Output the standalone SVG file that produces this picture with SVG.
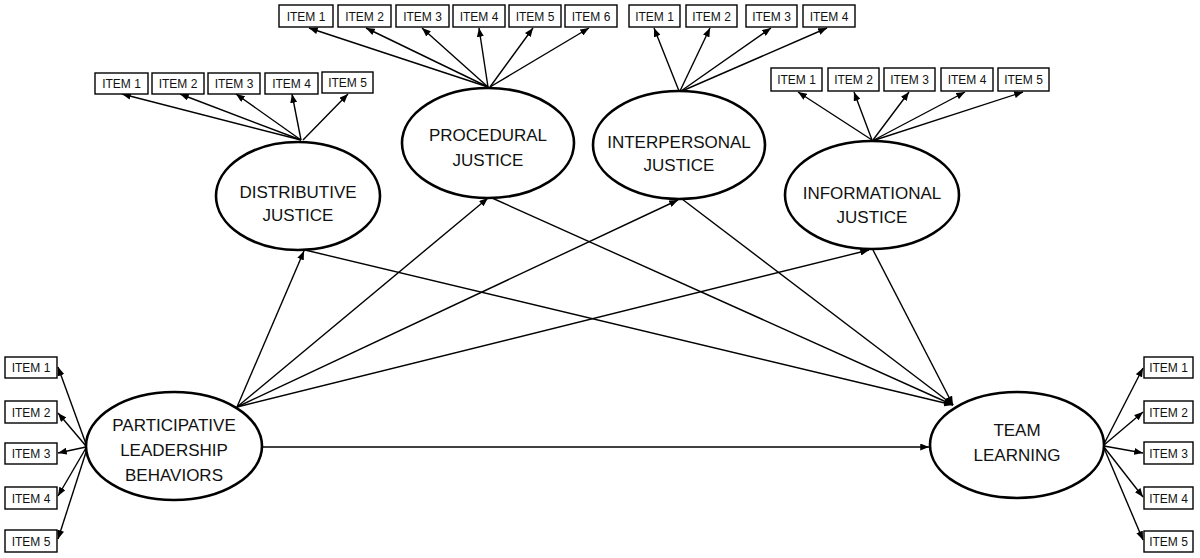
<svg xmlns="http://www.w3.org/2000/svg" width="1200" height="558" viewBox="0 0 1200 558">
<defs>
<marker id="ah" viewBox="0 0 10 8" refX="10" refY="4" markerWidth="9" markerHeight="7" orient="auto" markerUnits="userSpaceOnUse">
<path d="M0,0 L10,4 L0,8 z" fill="#000"/>
</marker>
<style>
.item rect{fill:#fff;stroke:#000;stroke-width:1.4}
.item text{font-family:"Liberation Sans",Arial,sans-serif;font-size:12px;text-anchor:middle;fill:#111}
.lat ellipse{fill:#fff;stroke:#000;stroke-width:2.6}
.lat text{font-family:"Liberation Sans",Arial,sans-serif;font-size:17px;text-anchor:middle;fill:#111}
.c line{stroke:#000;stroke-width:1.4;marker-end:url(#ah)}
</style>
</defs>
<rect width="1200" height="558" fill="#fff"/>

<g id="connectors" class="c">
<!-- structural paths -->
<line x1="237" y1="407" x2="304" y2="251"/>
<line x1="237" y1="407" x2="488" y2="198"/>
<line x1="237" y1="407" x2="678" y2="200"/>
<line x1="237" y1="407" x2="869" y2="250"/>
<line x1="262" y1="447" x2="929" y2="447"/>
<line x1="305" y1="250" x2="953" y2="405"/>
<line x1="492" y1="198" x2="953" y2="405"/>
<line x1="682" y1="199" x2="953" y2="405"/>
<line x1="873" y1="250" x2="953" y2="405"/>
<!-- distributive items -->
<line x1="301" y1="140" x2="122" y2="94"/>
<line x1="301" y1="140" x2="180" y2="94"/>
<line x1="301" y1="140" x2="236" y2="94"/>
<line x1="301" y1="140" x2="292" y2="94"/>
<line x1="303" y1="140" x2="348" y2="94"/>
<!-- procedural items -->
<line x1="488" y1="87" x2="309" y2="28"/>
<line x1="488" y1="87" x2="366" y2="28"/>
<line x1="488" y1="87" x2="422" y2="28"/>
<line x1="488" y1="87" x2="479" y2="28"/>
<line x1="490" y1="87" x2="533" y2="28"/>
<line x1="490" y1="87" x2="589" y2="28"/>
<!-- interpersonal items -->
<line x1="679" y1="91" x2="654" y2="28"/>
<line x1="680" y1="91" x2="710" y2="28"/>
<line x1="681" y1="91" x2="771" y2="28"/>
<line x1="682" y1="91" x2="827" y2="28"/>
<!-- informational items -->
<line x1="872" y1="140" x2="798" y2="92"/>
<line x1="872" y1="140" x2="854" y2="92"/>
<line x1="873" y1="140" x2="909" y2="92"/>
<line x1="874" y1="140" x2="965" y2="92"/>
<line x1="875" y1="140" x2="1023" y2="92"/>
<!-- participative items -->
<line x1="86" y1="444" x2="58" y2="367"/>
<line x1="86" y1="446" x2="58" y2="413"/>
<line x1="86" y1="447" x2="58" y2="453"/>
<line x1="86" y1="448" x2="58" y2="496"/>
<line x1="87" y1="449" x2="58" y2="539"/>
<!-- team learning items -->
<line x1="1104" y1="444" x2="1143" y2="368"/>
<line x1="1104" y1="445" x2="1143" y2="412"/>
<line x1="1104" y1="446" x2="1143" y2="453"/>
<line x1="1104" y1="447" x2="1143" y2="497"/>
<line x1="1104" y1="448" x2="1143" y2="540"/>
</g>

<g id="distributive" class="lat">
<ellipse cx="298" cy="196" rx="82" ry="54"/>
<text x="298" y="198">DISTRIBUTIVE</text>
<text x="298" y="221">JUSTICE</text>
</g>
<g id="procedural" class="lat">
<ellipse cx="488" cy="143" rx="86" ry="55"/>
<text x="488" y="141">PROCEDURAL</text>
<text x="488" y="166">JUSTICE</text>
</g>
<g id="interpersonal" class="lat">
<ellipse cx="679" cy="145" rx="86" ry="54"/>
<text x="679" y="148">INTERPERSONAL</text>
<text x="679" y="171">JUSTICE</text>
</g>
<g id="informational" class="lat">
<ellipse cx="872" cy="195" rx="87" ry="54"/>
<text x="872" y="199">INFORMATIONAL</text>
<text x="872" y="223">JUSTICE</text>
</g>
<g id="participative" class="lat">
<ellipse cx="174" cy="446" rx="88" ry="54"/>
<text x="174" y="431">PARTICIPATIVE</text>
<text x="174" y="456">LEADERSHIP</text>
<text x="174" y="481">BEHAVIORS</text>
</g>
<g id="team-learning" class="lat">
<ellipse cx="1017" cy="445" rx="87" ry="53"/>
<text x="1017" y="436">TEAM</text>
<text x="1017" y="461">LEARNING</text>
</g>

<g id="distributive-items" class="item">
<g id="dj-item1"><rect x="95" y="73" width="53" height="21"/><text x="121.5" y="88">ITEM 1</text></g>
<g id="dj-item2"><rect x="152" y="73" width="52" height="21"/><text x="178" y="88">ITEM 2</text></g>
<g id="dj-item3"><rect x="208" y="73" width="52" height="21"/><text x="234" y="88">ITEM 3</text></g>
<g id="dj-item4"><rect x="265" y="73" width="53" height="21"/><text x="291.5" y="88">ITEM 4</text></g>
<g id="dj-item5"><rect x="322" y="72" width="51" height="21"/><text x="347.5" y="87">ITEM 5</text></g>
</g>
<g id="procedural-items" class="item">
<g id="pj-item1"><rect x="279" y="5" width="54" height="22"/><text x="306" y="20.5">ITEM 1</text></g>
<g id="pj-item2"><rect x="338" y="5" width="53" height="22"/><text x="364.5" y="20.5">ITEM 2</text></g>
<g id="pj-item3"><rect x="396" y="5" width="53" height="22"/><text x="422.5" y="20.5">ITEM 3</text></g>
<g id="pj-item4"><rect x="453" y="5" width="52" height="22"/><text x="479" y="20.5">ITEM 4</text></g>
<g id="pj-item5"><rect x="509" y="5" width="52" height="22"/><text x="535" y="20.5">ITEM 5</text></g>
<g id="pj-item6"><rect x="565" y="5" width="52" height="22"/><text x="591" y="20.5">ITEM 6</text></g>
</g>
<g id="interpersonal-items" class="item">
<g id="ij-item1"><rect x="629" y="5" width="51" height="22"/><text x="654.5" y="20.5">ITEM 1</text></g>
<g id="ij-item2"><rect x="686" y="5" width="51" height="22"/><text x="711.5" y="20.5">ITEM 2</text></g>
<g id="ij-item3"><rect x="746" y="5" width="51" height="22"/><text x="771.5" y="20.5">ITEM 3</text></g>
<g id="ij-item4"><rect x="803" y="5" width="52" height="22"/><text x="829" y="20.5">ITEM 4</text></g>
</g>
<g id="informational-items" class="item">
<g id="inf-item1"><rect x="771" y="68" width="51" height="23"/><text x="796.5" y="84">ITEM 1</text></g>
<g id="inf-item2"><rect x="828" y="68" width="51" height="23"/><text x="853.5" y="84">ITEM 2</text></g>
<g id="inf-item3"><rect x="884" y="68" width="51" height="23"/><text x="909.5" y="84">ITEM 3</text></g>
<g id="inf-item4"><rect x="941" y="68" width="52" height="23"/><text x="967" y="84">ITEM 4</text></g>
<g id="inf-item5"><rect x="998" y="68" width="51" height="23"/><text x="1023.5" y="84">ITEM 5</text></g>
</g>
<g id="participative-items" class="item">
<g id="pl-item1"><rect x="5" y="357" width="52" height="21"/><text x="31" y="372">ITEM 1</text></g>
<g id="pl-item2"><rect x="5" y="401" width="52" height="22"/><text x="31" y="416.5">ITEM 2</text></g>
<g id="pl-item3"><rect x="5" y="443" width="52" height="21"/><text x="31" y="458">ITEM 3</text></g>
<g id="pl-item4"><rect x="5" y="487" width="52" height="22"/><text x="31" y="502.5">ITEM 4</text></g>
<g id="pl-item5"><rect x="5" y="530" width="52" height="22"/><text x="31" y="545.5">ITEM 5</text></g>
</g>
<g id="team-items" class="item">
<g id="tl-item1"><rect x="1144" y="357" width="49" height="21"/><text x="1168.5" y="372">ITEM 1</text></g>
<g id="tl-item2"><rect x="1144" y="401" width="49" height="22"/><text x="1168.5" y="416.5">ITEM 2</text></g>
<g id="tl-item3"><rect x="1144" y="442" width="49" height="22"/><text x="1168.5" y="457.5">ITEM 3</text></g>
<g id="tl-item4"><rect x="1144" y="487" width="49" height="22"/><text x="1168.5" y="502.5">ITEM 4</text></g>
<g id="tl-item5"><rect x="1144" y="531" width="49" height="21"/><text x="1168.5" y="546">ITEM 5</text></g>
</g>
</svg>
